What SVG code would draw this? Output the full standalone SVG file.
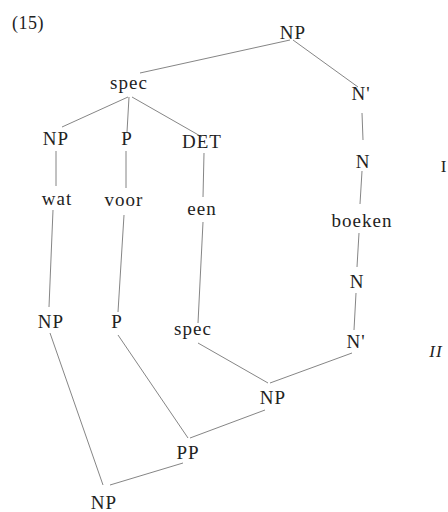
<svg xmlns="http://www.w3.org/2000/svg" width="448" height="512" viewBox="0 0 448 512">
<style>
text{font-family:"Liberation Serif","Times New Roman",serif;font-size:19px;fill:#222;text-anchor:middle;letter-spacing:1px}
.e line{stroke:#666;stroke-width:0.8}
</style>
<rect width="448" height="512" fill="#fff"/>
<text x="12" y="29" style="text-anchor:start;font-size:18px;letter-spacing:0.5px">(15)</text>
<text x="444" y="172" style="font-size:17px">I</text>
<text x="436" y="357" style="font-size:17px;font-style:italic">II</text>
<g class="e" id="edges">
<line x1="290" y1="40" x2="140" y2="73"/>
<line x1="293" y1="40" x2="358" y2="87"/>
<line x1="128" y1="97" x2="62" y2="127"/>
<line x1="129" y1="97" x2="127" y2="132"/>
<line x1="132" y1="97" x2="202" y2="137"/>
<line x1="362" y1="113" x2="363" y2="140"/>
<line x1="56" y1="151" x2="56" y2="186"/>
<line x1="126" y1="151" x2="126" y2="188"/>
<line x1="204" y1="153" x2="203" y2="197"/>
<line x1="362" y1="171" x2="360" y2="204"/>
<line x1="53" y1="210" x2="49" y2="307"/>
<line x1="124" y1="215" x2="118" y2="312"/>
<line x1="203" y1="222" x2="198" y2="323"/>
<line x1="359" y1="233" x2="357" y2="267"/>
<line x1="356" y1="293" x2="354" y2="330"/>
<line x1="50" y1="333" x2="103" y2="485"/>
<line x1="118" y1="335" x2="188" y2="438"/>
<line x1="198" y1="343" x2="268" y2="383"/>
<line x1="352" y1="353" x2="270" y2="383"/>
<line x1="265" y1="410" x2="190" y2="438"/>
<line x1="183" y1="463" x2="110" y2="485"/>
</g>
<g id="np_top"><text x="293" y="39">NP</text></g>
<g id="spec_top"><text x="129" y="89">spec</text></g>
<g id="nbar_top"><text x="361" y="100">N'</text></g>
<g id="np_l"><text x="56" y="145">NP</text></g>
<g id="p_l"><text x="127" y="145">P</text></g>
<g id="det"><text x="202" y="148">DET</text></g>
<g id="n_top"><text x="363" y="168">N</text></g>
<g id="wat"><text x="57" y="205">wat</text></g>
<g id="voor"><text x="124" y="206">voor</text></g>
<g id="een"><text x="202" y="215">een</text></g>
<g id="boeken"><text x="362" y="227">boeken</text></g>
<g id="n_low"><text x="357" y="288">N</text></g>
<g id="np_l2"><text x="51" y="328">NP</text></g>
<g id="p_l2"><text x="117" y="328">P</text></g>
<g id="spec_low"><text x="193" y="335">spec</text></g>
<g id="nbar_low"><text x="356" y="348">N'</text></g>
<g id="np_mid"><text x="273" y="404">NP</text></g>
<g id="pp"><text x="188" y="459">PP</text></g>
<g id="np_bot"><text x="104" y="509">NP</text></g>
</svg>
